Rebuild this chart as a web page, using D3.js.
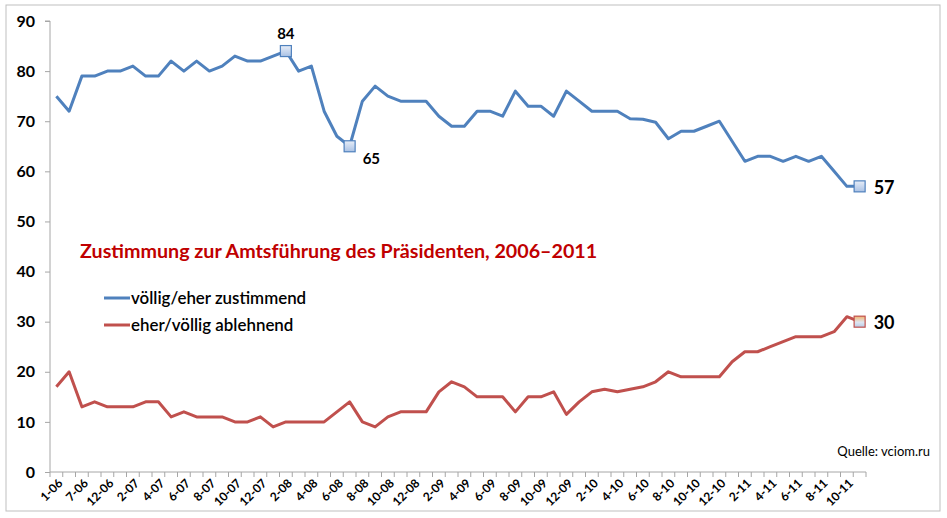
<!DOCTYPE html>
<html>
<head>
<meta charset="utf-8">
<script src="https://cdn.jsdelivr.net/npm/d3@7"></script>
<style>
  body { margin: 0; background: #fff; }
  text { font-family: Lato, "Open Sans", sans-serif; }
</style>
</head>
<body>
<svg id="chart" width="947" height="518"></svg>
<script>
// survey months (every second one gets a label)
let months = ["1-06", "4-06", "7-06", "10-06", "12-06"];
for (let y = 7; y <= 11; y++) {
  for (let m = 1; m <= 12; m++) {
    if (y == 11 && m > 11) break;
    months.push(m + "-" + (y < 10 ? "0" + y : y));
  }
}

let approve = [75, 72, 79, 79, 80, 80, 81, 79, 79, 82, 80, 82, 80, 81, 83, 82,
  82, 83, 84, 80, 81, 72, 67, 65, 74, 77, 75, 74, 74, 74, 71, 69,
  69, 72, 72, 71, 76, 73, 73, 71, 76, 74, 72, 72, 72, 70.5, 70.4, 69.8,
  66.5, 68, 68, 69, 70, 66, 62, 63, 63, 62, 63, 62, 63, 60, 57, 57];

let reject = [17, 20, 13, 14, 13, 13, 13, 14, 14, 11, 12, 11, 11, 11, 10, 10,
  11, 9, 10, 10, 10, 10, 12, 14, 10, 9, 11, 12, 12, 12, 16, 18,
  17, 15, 15, 15, 12, 15, 15, 16, 11.5, 14, 16, 16.5, 16, 16.5, 17, 18,
  20, 19, 19, 19, 19, 22, 24, 24, 25, 26, 27, 27, 27, 28, 31, 30];

let yTicks = [0, 10, 20, 30, 40, 50, 60, 70, 80, 90];

let seriesNames = ["völlig/eher zustimmend", "eher/völlig ablehnend"];
let seriesColors = ["#4F81BD", "#C0504D"];

// highlighted points: [series, index, label dx, label dy, size]
let callouts = [
  [0, 18, 0, -17, 15],
  [0, 23, 13, 12, 15],
  [0, 63, 14, 1, 18],
  [1, 63, 14, 1, 18]
];

let svg = d3.select("#chart");

svg.append("rect")
  .attr("x", 6).attr("y", 5)
  .attr("width", 934).attr("height", 506)
  .attr("fill", "none")
  .attr("stroke", "#bfbfbf");

let defs = svg.append("defs");
let g1 = defs.append("linearGradient").attr("id", "mkBlue")
  .attr("x1", 0).attr("y1", 0).attr("x2", 0).attr("y2", 1);
g1.append("stop").attr("offset", "0%").attr("stop-color", "#e8eef8");
g1.append("stop").attr("offset", "100%").attr("stop-color", "#a9c1e4");
let g2 = defs.append("linearGradient").attr("id", "mkRed")
  .attr("x1", 0).attr("y1", 0).attr("x2", 0).attr("y2", 1);
g2.append("stop").attr("offset", "0%").attr("stop-color", "#f2b36b");
g2.append("stop").attr("offset", "55%").attr("stop-color", "#dfe6f2");
g2.append("stop").attr("offset", "100%").attr("stop-color", "#b9cbe6");

let plotL = 50, plotR = 866, plotT = 21, plotB = 472;

let xScale = d3.scaleBand().domain(months).range([plotL, plotR]).padding(0);
let yScale = d3.scaleLinear().domain([0, 90]).range([plotB, plotT]);
let cx = (d) => xScale(d) + xScale.bandwidth() / 2;

// y axis
let yAxis = d3.axisLeft(yScale).tickValues(yTicks).tickSize(5).tickPadding(10);
let gY = svg.append("g").attr("transform", `translate(${plotL},0)`).call(yAxis);
gY.selectAll("path, line").attr("stroke", "#a6a6a6");
gY.select("path").attr("d", `M-5,${plotT}H0V${plotB}`);
gY.selectAll("text")
  .style("font-size", "16px")
  .style("font-weight", "bold")
  .attr("fill", "#000");

// x axis: ticks on category boundaries
let gX = svg.append("g");
gX.append("line")
  .attr("x1", plotL).attr("x2", plotR)
  .attr("y1", plotB).attr("y2", plotB)
  .attr("stroke", "#a6a6a6");
gX.selectAll("line.tk")
  .data(months.concat(["end"]))
  .enter()
  .append("line")
  .attr("class", "tk")
  .attr("x1", (d, i) => plotL + i * xScale.bandwidth())
  .attr("x2", (d, i) => plotL + i * xScale.bandwidth())
  .attr("y1", plotB).attr("y2", plotB + 5)
  .attr("stroke", "#a6a6a6");
gX.selectAll("text")
  .data(months.filter((d, i) => i % 2 == 0))
  .enter()
  .append("text")
  .attr("transform", (d) => `translate(${cx(d) + 4},${plotB + 9}) rotate(-45)`)
  .attr("text-anchor", "end")
  .attr("dy", "0.35em")
  .style("font-size", "12px")
  .style("font-weight", "bold")
  .text((d) => d);

// lines
let line = d3.line()
  .x((d, i) => cx(months[i]))
  .y((d) => yScale(d));

[approve, reject].forEach((s, k) => {
  svg.append("path")
    .datum(s)
    .attr("d", line)
    .attr("fill", "none")
    .attr("stroke", seriesColors[k])
    .attr("stroke-width", 3)
    .attr("stroke-linejoin", "round");
});

// markers + labels
let both = [approve, reject];
callouts.forEach((c) => {
  let x = cx(months[c[1]]);
  let y = yScale(both[c[0]][c[1]]);
  svg.append("rect")
    .attr("x", x - 5.5).attr("y", y - 5.5)
    .attr("width", 11).attr("height", 11)
    .attr("fill", c[0] == 0 ? "url(#mkBlue)" : "url(#mkRed)")
    .attr("stroke", seriesColors[c[0]])
    .attr("stroke-width", 1.2);
  svg.append("text")
    .attr("x", x + c[2]).attr("y", y + c[3])
    .attr("text-anchor", c[2] == 0 ? "middle" : "start")
    .attr("dy", "0.35em")
    .style("font-size", c[4] + "px")
    .style("font-weight", "bold")
    .text(both[c[0]][c[1]]);
});

// title
svg.append("text")
  .attr("x", 80).attr("y", 258)
  .attr("fill", "#C00000")
  .style("font-size", "19.7px")
  .style("font-weight", "bold")
  .text("Zustimmung zur Amtsführung des Präsidenten, 2006–2011");

// legend
seriesNames.forEach((n, k) => {
  let ly = 298 + k * 27;
  svg.append("line")
    .attr("x1", 104).attr("x2", 130)
    .attr("y1", ly).attr("y2", ly)
    .attr("stroke", seriesColors[k])
    .attr("stroke-width", 3);
  svg.append("text")
    .attr("x", 131).attr("y", ly)
    .attr("dy", "0.35em")
    .style("font-size", "16.9px")
    .style("font-weight", 600)
    .text(n);
});

svg.append("text")
  .attr("x", 930).attr("y", 456)
  .attr("text-anchor", "end")
  .style("font-size", "13px")
  .text("Quelle: vciom.ru");
</script>
</body>
</html>
